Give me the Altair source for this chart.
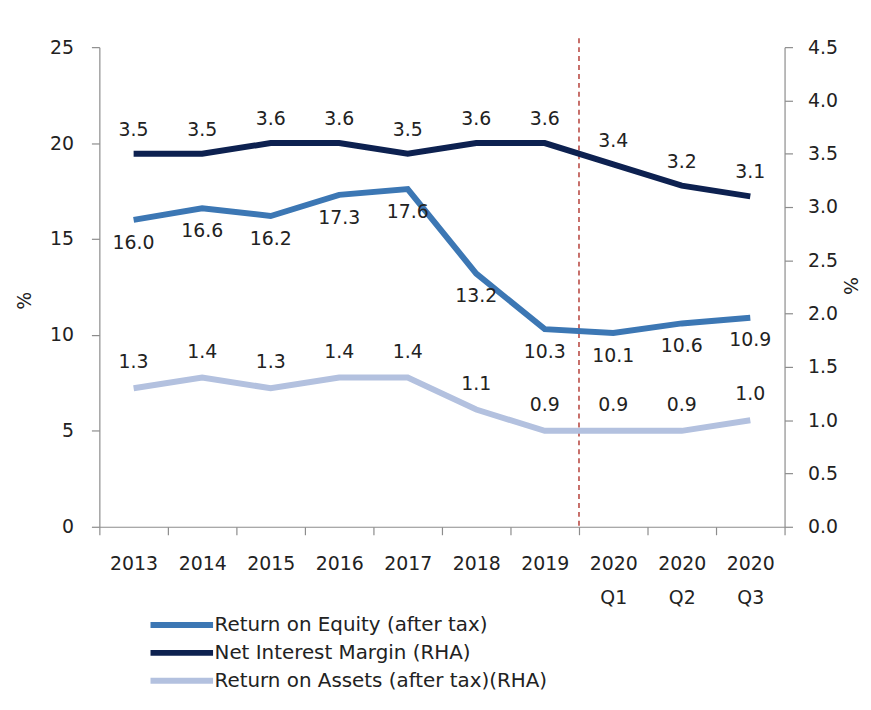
import altair as alt
import pandas as pd

periods = ["2013", "2014", "2015", "2016", "2017", "2018", "2019", "2020 Q1", "2020 Q2", "2020 Q3"]
roe = [16.0, 16.6, 16.2, 17.3, 17.6, 13.2, 10.3, 10.1, 10.6, 10.9]
nim = [3.5, 3.5, 3.6, 3.6, 3.5, 3.6, 3.6, 3.4, 3.2, 3.1]
roa = [1.3, 1.4, 1.3, 1.4, 1.4, 1.1, 0.9, 0.9, 0.9, 1.0]
series_names = ["Return on Equity (after tax)", "Net Interest Margin (RHA)", "Return on Assets (after tax)(RHA)"]
series_colors = ["#3c77b4", "#0d2150", "#b3c1df"]
left_ticks = [0, 5, 10, 15, 20, 25]
right_ticks = [0.0, 0.5, 1.0, 1.5, 2.0, 2.5, 3.0, 3.5, 4.0, 4.5]
divider_period = ["2020 Q1"]

rows = []
for name, vals in zip(series_names, [roe, nim, roa]):
    for p, v in zip(periods, vals):
        rows.append({"period": p, "series": name, "value": v})
df = pd.DataFrame(rows)
df_left = df[df.series == series_names[0]]
df_nim = df[df.series == series_names[1]]
df_roa = df[df.series == series_names[2]]
df_rule = pd.DataFrame({"period": divider_period})

FONT = "DejaVu Sans"
FS = 19
W, H = 690, 483

x_axis = alt.Axis(title=None, tickBand="extent", tickSize=8, labelPadding=20,
                  labelExpr="split(datum.label, ' ')", labelLineHeight=34,
                  labelAngle=0, labelFontSize=FS)
x_scale = alt.Scale(type="band", paddingInner=0, paddingOuter=0)


def xenc(bp=0.5):
    return alt.X("period:N", sort=periods, scale=x_scale, axis=x_axis, bandPosition=bp)


y_left_scale = alt.Scale(domain=[0, 25], nice=False, zero=True)
y_right_scale = alt.Scale(domain=[0, 4.5], nice=False, zero=True)

color_enc = alt.Color(
    "series:N",
    scale=alt.Scale(domain=series_names, range=series_colors),
    legend=alt.Legend(orient="none", legendX=72, legendY=571, title=None,
                      symbolType="M-4,0L4,0", symbolSize=248, symbolStrokeWidth=6,
                      labelFontSize=20, labelOffset=22, rowPadding=4, labelLimit=0,
                      labelColor="#222222", labelFont=FONT),
)

roe_line = alt.Chart(df_left).mark_line(strokeWidth=6).encode(
    x=xenc(),
    y=alt.Y("value:Q", scale=y_left_scale,
            axis=alt.Axis(orient="left", values=left_ticks, tickSize=8, labelPadding=18,
                          title="%", titleX=-75, titleY=255, titleAngle=-90,
                          titleFontSize=FS, titleFontWeight="normal", titleColor="#222222",
                          titleFont=FONT, titleAlign="center", titleBaseline="middle")),
    color=color_enc,
)
roe_text = alt.Chart(df_left).mark_text(dy=23, fontSize=FS, font=FONT, color="#222222").encode(
    x=xenc(),
    y=alt.Y("value:Q", scale=y_left_scale, axis=None),
    text=alt.Text("value:Q", format=".1f"),
)

right_line = alt.Chart(pd.concat([df_nim, df_roa])).mark_line(strokeWidth=6).encode(
    x=xenc(),
    y=alt.Y("value:Q", scale=y_right_scale,
            axis=alt.Axis(orient="right", values=right_ticks, format=".1f", tickSize=8,
                          labelPadding=15, title="%", titleX=65, titleY=240, titleAngle=90,
                          titleFontSize=FS, titleFontWeight="normal", titleColor="#222222",
                          titleFont=FONT, titleAlign="center", titleBaseline="middle")),
    color=color_enc,
    detail="series:N",
)
nim_text = alt.Chart(df_nim).mark_text(dy=-24, fontSize=FS, font=FONT, color="#222222").encode(
    x=xenc(),
    y=alt.Y("value:Q", scale=y_right_scale, axis=None),
    text=alt.Text("value:Q", format=".1f"),
)
roa_text = alt.Chart(df_roa).mark_text(dy=-26, fontSize=FS, font=FONT, color="#222222").encode(
    x=xenc(),
    y=alt.Y("value:Q", scale=y_right_scale, axis=None),
    text=alt.Text("value:Q", format=".1f"),
)

rule = alt.Chart(df_rule).mark_rule(color="#b5403a", strokeDash=[5, 4], strokeWidth=1.5).encode(
    x=xenc(0),
    y=alt.value(-9),
    y2=alt.value(H),
)

chart = alt.layer(
    rule, roe_line, right_line, roe_text, nim_text, roa_text
).resolve_scale(y="independent").properties(
    width=W, height=H,
    autosize=alt.AutoSizeParams(type="none"),
    padding={"left": 92, "top": 37, "right": 79, "bottom": 170},
    background="white",
).configure_view(stroke=None).configure_axis(
    grid=False, domainColor="#8c8c8c", tickColor="#8c8c8c", labelColor="#222222",
    labelFont=FONT, labelFontSize=FS, domainWidth=1.2, tickWidth=1.2,
)

chart.save("out.html", embed_options={"renderer": "svg", "actions": False})
